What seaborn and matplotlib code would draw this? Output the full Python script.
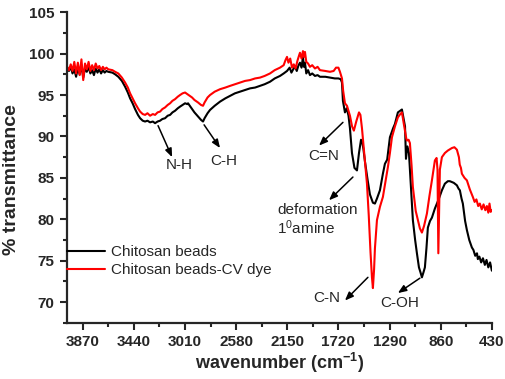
import pandas as pd
import matplotlib
matplotlib.use("Agg")
import matplotlib.pyplot as plt
from matplotlib.ticker import MultipleLocator
import seaborn as sns

# FTIR spectra (wavenumber in cm-1, % transmittance)
beads_wn = [4000, 3985, 3970, 3955, 3940, 3925, 3910, 3895, 3880, 3865, 3850, 3835,
            3820, 3805, 3790, 3775, 3760, 3745, 3730, 3715, 3700, 3685, 3670, 3655,
            3620, 3597, 3570, 3540, 3513, 3490, 3471, 3450, 3429, 3405, 3387, 3365,
            3345, 3325, 3303, 3280, 3261, 3240, 3219, 3200, 3177, 3155, 3135, 3115,
            3093, 3070, 3051, 3030, 3009, 2990, 2984, 2960, 2930, 2900, 2875, 2858,
            2845, 2820, 2799, 2760, 2715, 2670, 2631, 2590, 2547, 2505, 2463, 2420,
            2379, 2340, 2295, 2255, 2211, 2180, 2152, 2130, 2115, 2100, 2085, 2070,
            2055, 2043, 2030, 2018, 2010, 2001, 1990, 1975, 1959, 1940, 1917, 1895,
            1875, 1830, 1791, 1750, 1720, 1700, 1690, 1682, 1665, 1650, 1635, 1623,
            1606, 1585, 1564, 1547, 1530, 1522, 1510, 1497, 1475, 1455, 1430, 1413,
            1396, 1371, 1346, 1329, 1310, 1287, 1260, 1245, 1220, 1200, 1186, 1170,
            1160, 1152, 1140, 1127, 1119, 1094, 1075, 1060, 1043, 1030, 1018, 1005,
            993, 980, 968, 950, 934, 909, 892, 875, 850, 825, 800, 783,
            750, 724, 710, 699, 685, 674, 655, 640, 620, 598, 585, 570,
            555, 548, 535, 520, 505, 489, 475, 460, 445, 430]
beads_t = [98.3, 97.9, 98.4, 97.6, 98.1, 97.2, 98.3, 97.5, 98.6, 97.1, 98.2, 97.8,
           98.4, 97.6, 98.0, 97.4, 98.2, 97.7, 98.1, 97.6, 98.0, 97.7, 97.9, 97.8,
           97.7, 97.5, 97.2, 96.7, 96.0, 95.3, 94.6, 94.0, 93.3, 92.6, 92.2, 91.9,
           91.8, 91.9, 91.7, 91.8, 91.6, 91.8, 91.9, 92.1, 92.2, 92.5, 92.6, 92.9,
           93.1, 93.4, 93.6, 93.8, 94.0, 93.9, 94.0, 93.5, 92.9, 92.4, 92.0, 91.8,
           92.2, 92.8, 93.2, 93.7, 94.2, 94.6, 94.9, 95.2, 95.4, 95.6, 95.8, 95.9,
           96.1, 96.3, 96.6, 97.0, 97.3, 97.6, 97.9, 98.3, 97.7, 98.1, 98.4, 97.9,
           98.6, 98.9, 98.3, 99.6, 98.4, 98.9, 97.6, 98.0, 97.4, 97.6, 97.3, 97.4,
           97.2, 97.2, 97.1, 97.0, 97.0, 96.9, 96.5, 94.3, 92.9, 93.4, 92.5, 91.0,
           88.0, 86.2, 85.9, 88.0, 89.6, 89.5, 88.5, 87.0, 84.8, 83.0, 82.0, 81.9,
           82.5, 83.5, 85.5, 86.7, 87.2, 89.9, 91.0, 91.5, 92.9, 93.1, 93.25, 92.0,
           91.2, 87.3, 88.8, 88.0, 85.9, 79.9, 77.5, 75.9, 74.2, 73.6, 73.0, 73.6,
           74.2, 76.5, 79.0, 79.8, 80.2, 81.3, 81.9, 82.5, 83.5, 84.3, 84.6, 84.6,
           84.4, 84.1, 83.7, 83.5, 82.5, 81.9, 79.8, 78.7, 77.5, 76.6, 76.3, 75.6,
           75.9, 75.2, 75.5, 74.8, 75.3, 74.5, 75.1, 74.2, 74.8, 73.8]

dye_wn = [4000, 3985, 3970, 3955, 3940, 3925, 3910, 3895, 3880, 3865, 3850, 3835,
          3820, 3805, 3790, 3775, 3760, 3745, 3730, 3715, 3700, 3685, 3670, 3655,
          3620, 3597, 3570, 3540, 3513, 3490, 3471, 3450, 3429, 3405, 3387, 3365,
          3345, 3325, 3303, 3280, 3261, 3240, 3219, 3200, 3177, 3155, 3135, 3115,
          3093, 3070, 3051, 3030, 3009, 2990, 2970, 2950, 2930, 2900, 2875, 2858,
          2845, 2820, 2799, 2760, 2715, 2670, 2631, 2590, 2547, 2505, 2463, 2420,
          2379, 2340, 2295, 2255, 2211, 2180, 2165, 2152, 2140, 2125, 2110, 2095,
          2080, 2065, 2050, 2043, 2030, 2018, 2010, 2001, 1990, 1975, 1959, 1940,
          1917, 1895, 1875, 1830, 1791, 1760, 1740, 1720, 1707, 1690, 1680, 1665,
          1648, 1623, 1605, 1590, 1570, 1547, 1535, 1522, 1500, 1480, 1465, 1450,
          1438, 1430, 1420, 1413, 1396, 1371, 1346, 1325, 1304, 1287, 1270, 1245,
          1220, 1200, 1186, 1170, 1161, 1150, 1144, 1130, 1119, 1105, 1094, 1070,
          1052, 1035, 1018, 1000, 976, 955, 934, 909, 895, 887, 880, 875,
          867, 850, 825, 800, 766, 745, 724, 707, 700, 690, 682, 660,
          640, 615, 590, 575, 560, 545, 531, 515, 500, 485, 472, 460,
          450, 440, 430]
dye_t = [98.4, 98.0, 98.7, 97.9, 99.0, 97.6, 98.9, 97.4, 99.3, 96.8, 98.8, 98.1,
         99.0, 97.9, 98.6, 98.0, 98.8, 98.2, 98.5, 98.0, 98.4, 98.1, 98.3, 98.1,
         98.0, 97.8, 97.6, 97.1, 96.5, 95.9, 95.2, 94.6, 94.0, 93.4, 93.0, 92.7,
         92.6, 92.8, 92.5, 92.7, 92.6, 92.9, 93.0, 93.3, 93.5, 93.8, 94.0, 94.3,
         94.5, 94.8, 95.0, 95.2, 95.3, 95.1, 94.9, 94.7, 94.4, 94.1, 93.8, 93.7,
         94.1, 94.7, 95.0, 95.4, 95.7, 95.9, 96.1, 96.3, 96.5, 96.7, 96.8, 97.0,
         97.1, 97.3, 97.6, 98.0, 98.3, 98.6, 99.2, 99.6, 98.9, 99.4, 98.3, 98.7,
         98.2, 99.1, 99.8, 100.1, 99.4, 100.3, 99.6, 100.2, 99.0, 98.8, 98.4, 98.6,
         98.2, 98.4, 98.0, 97.9, 97.8, 97.9, 98.3, 98.3, 97.8, 97.0, 95.5, 94.0,
         93.7, 92.5, 91.2, 90.7, 91.8, 92.9, 92.6, 91.0, 87.5, 84.3, 80.5, 76.0,
         73.0, 71.7, 74.0, 76.5, 79.9, 81.5, 82.7, 84.5, 86.3, 88.0, 89.9, 91.2,
         92.3, 92.7, 92.9, 91.5, 90.7, 89.8, 89.5, 89.6, 89.2, 86.5, 83.9, 81.0,
         79.9, 78.9, 78.4, 79.2, 80.7, 82.8, 84.7, 87.1, 87.4, 86.0, 75.9, 80.0,
         86.0, 87.5, 88.0, 88.3, 88.6, 88.7, 88.4, 87.5, 86.6, 86.2, 85.5, 85.0,
         84.7, 83.6, 82.7, 82.1, 82.4, 81.6, 81.9, 81.2, 81.8, 81.1, 81.6, 80.8,
         81.9, 80.9, 81.1]

series_names = ["Chitosan beads", "Chitosan beads-CV dye"]
series_colors = ["#000000", "#ff0000"]

x_ticks = [3870, 3440, 3010, 2580, 2150, 1720, 1290, 860, 430]

# peak labels: text, text position, arrow tail, arrow head
peak_labels = ["N-H", "C-H", "C=N", "C-N", "C-OH"]
peak_text_xy = [(3055, 86.5), (2685, 87.0), (1841, 87.7), (1816, 70.5), (1203, 69.9)]
peak_tail_xy = [(3236, 91.3), (2849, 91.4), (1682, 91.7), (1472, 73.0), (1035, 72.9)]
peak_head_xy = [(3118, 87.5), (2715, 88.6), (1883, 88.9), (1665, 70.2), (1220, 71.1)]

df = pd.concat([
    pd.DataFrame({"wavenumber": beads_wn, "T": beads_t, "sample": series_names[0]}),
    pd.DataFrame({"wavenumber": dye_wn, "T": dye_t, "sample": series_names[1]}),
])

sns.set_style("ticks")
plt.rcParams["font.family"] = ["Liberation Sans", "DejaVu Sans"]
plt.rcParams["mathtext.default"] = "regular"

fig, ax = plt.subplots(figsize=(5.05, 3.79), dpi=100)
fig.subplots_adjust(left=0.133, right=0.974, bottom=0.148, top=0.968)

sns.lineplot(data=df, x="wavenumber", y="T", hue="sample", palette=series_colors,
             estimator=None, linewidth=1.5, ax=ax)

ax.set_xlim(4000, 430)
ax.set_ylim(67.5, 105)
ax.xaxis.set_major_locator(MultipleLocator(430))
ax.xaxis.set_minor_locator(MultipleLocator(215))
ax.yaxis.set_major_locator(MultipleLocator(5))
ax.yaxis.set_minor_locator(MultipleLocator(2.5))
ax.set_xticks(x_ticks)
ax.set_xticklabels([str(t) for t in x_ticks])
ax.tick_params(which="major", direction="out", length=5, width=1.5, labelsize=11, pad=4)
ax.tick_params(which="minor", direction="out", length=3, width=1.5)
for lab in ax.get_xticklabels() + ax.get_yticklabels():
    lab.set_fontweight("bold")

sns.despine(ax=ax)
for side in ["left", "bottom"]:
    ax.spines[side].set_linewidth(1.6)

ax.set_xlabel("wavenumber (cm$^{-1}$)", fontsize=13, fontweight="bold")
ax.set_ylabel("% transmittance", fontsize=14, fontweight="bold")
ax.xaxis.set_label_coords(0.5, -0.09)
ax.yaxis.set_label_coords(-0.11, 0.46)

leg = ax.legend(loc="center left", bbox_to_anchor=(0.0, 0.198), frameon=False,
                fontsize=11, handlelength=2.5, handletextpad=0.35,
                labelspacing=0.25, borderpad=0, borderaxespad=0)
for line in leg.get_lines():
    line.set_linewidth(1.5)

arrow_style = dict(arrowstyle="-|>,head_length=0.5,head_width=0.2", color="black",
                   lw=1.1, shrinkA=0, shrinkB=0, mutation_scale=10)
for label, txy, tail, head in zip(peak_labels, peak_text_xy, peak_tail_xy, peak_head_xy):
    ax.annotate("", xy=head, xytext=tail, arrowprops=arrow_style)
    ax.text(txy[0], txy[1], label, ha="center", va="center", fontsize=11)

ax.annotate("", xy=(1799, 82.3), xytext=(1598, 85.1), arrowprops=arrow_style)
ax.text(2236, 81.1, "deformation", ha="left", va="center", fontsize=11)
ax.text(2236, 79.0, "1$^{0}$amine", ha="left", va="center", fontsize=11)

fig.savefig("out.png", dpi=100)
